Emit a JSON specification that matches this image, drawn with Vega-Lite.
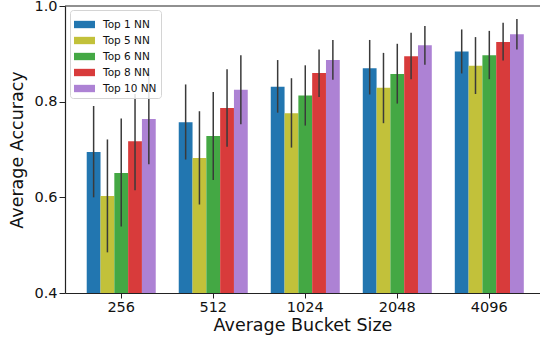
{
  "$schema": "https://vega.github.io/schema/vega-lite/v6.json",
  "width": 475,
  "height": 287,
  "autosize": {"type": "none"},
  "padding": {"left": 65, "top": 6, "right": 0, "bottom": 46},
  "config": {
    "font": "DejaVu Sans",
    "view": {"stroke": null},
    "axis": {
      "grid": false,
      "domainColor": "#222222",
      "domainWidth": 1.2,
      "tickColor": "#222222",
      "tickSize": 5,
      "labelColor": "#111111",
      "labelFontSize": 14.5,
      "titleColor": "#111111",
      "titleFontSize": 17.5,
      "titleFontWeight": "normal"
    }
  },
  "data": {
    "values": [
      {"bucket": "256", "series": "Top 1 NN", "mean": 0.695, "lo": 0.600, "hi": 0.791},
      {"bucket": "256", "series": "Top 5 NN", "mean": 0.603, "lo": 0.485, "hi": 0.721},
      {"bucket": "256", "series": "Top 6 NN", "mean": 0.651, "lo": 0.539, "hi": 0.765},
      {"bucket": "256", "series": "Top 8 NN", "mean": 0.717, "lo": 0.615, "hi": 0.816},
      {"bucket": "256", "series": "Top 10 NN", "mean": 0.764, "lo": 0.669, "hi": 0.858},
      {"bucket": "512", "series": "Top 1 NN", "mean": 0.757, "lo": 0.679, "hi": 0.836},
      {"bucket": "512", "series": "Top 5 NN", "mean": 0.682, "lo": 0.585, "hi": 0.780},
      {"bucket": "512", "series": "Top 6 NN", "mean": 0.728, "lo": 0.636, "hi": 0.820},
      {"bucket": "512", "series": "Top 8 NN", "mean": 0.787, "lo": 0.706, "hi": 0.868},
      {"bucket": "512", "series": "Top 10 NN", "mean": 0.825, "lo": 0.753, "hi": 0.897},
      {"bucket": "1024", "series": "Top 1 NN", "mean": 0.831, "lo": 0.777, "hi": 0.887},
      {"bucket": "1024", "series": "Top 5 NN", "mean": 0.776, "lo": 0.704, "hi": 0.849},
      {"bucket": "1024", "series": "Top 6 NN", "mean": 0.813, "lo": 0.750, "hi": 0.876},
      {"bucket": "1024", "series": "Top 8 NN", "mean": 0.860, "lo": 0.810, "hi": 0.909},
      {"bucket": "1024", "series": "Top 10 NN", "mean": 0.887, "lo": 0.846, "hi": 0.929},
      {"bucket": "2048", "series": "Top 1 NN", "mean": 0.870, "lo": 0.815, "hi": 0.929},
      {"bucket": "2048", "series": "Top 5 NN", "mean": 0.829, "lo": 0.755, "hi": 0.902},
      {"bucket": "2048", "series": "Top 6 NN", "mean": 0.858, "lo": 0.796, "hi": 0.921},
      {"bucket": "2048", "series": "Top 8 NN", "mean": 0.895, "lo": 0.847, "hi": 0.944},
      {"bucket": "2048", "series": "Top 10 NN", "mean": 0.918, "lo": 0.877, "hi": 0.958},
      {"bucket": "4096", "series": "Top 1 NN", "mean": 0.905, "lo": 0.859, "hi": 0.951},
      {"bucket": "4096", "series": "Top 5 NN", "mean": 0.875, "lo": 0.816, "hi": 0.935},
      {"bucket": "4096", "series": "Top 6 NN", "mean": 0.897, "lo": 0.847, "hi": 0.948},
      {"bucket": "4096", "series": "Top 8 NN", "mean": 0.925, "lo": 0.886, "hi": 0.965},
      {"bucket": "4096", "series": "Top 10 NN", "mean": 0.941, "lo": 0.909, "hi": 0.973}
    ]
  },
  "layer": [
    {
      "mark": {"type": "bar", "opacity": 1, "clip": true},
      "encoding": {
        "x": {
          "field": "bucket",
          "type": "ordinal",
          "sort": ["256", "512", "1024", "2048", "4096"],
          "scale": {"paddingInner": 0.25, "paddingOuter": 0.206, "align": 0.573},
          "axis": {"labelAngle": 0, "title": "Average Bucket Size", "labelPadding": 2, "titlePadding": 3}
        },
        "xOffset": {
          "field": "series",
          "type": "nominal",
          "sort": ["Top 1 NN", "Top 5 NN", "Top 6 NN", "Top 8 NN", "Top 10 NN"],
          "scale": {"paddingInner": 0, "paddingOuter": 0}
        },
        "y": {
          "field": "mean",
          "type": "quantitative",
          "scale": {"domain": [0.4, 1.0], "nice": false, "zero": false},
          "axis": {"values": [0.4, 0.6, 0.8, 1.0], "format": ".1f", "title": "Average Accuracy", "labelPadding": 2, "titlePadding": 7, "tickSize": 6}
        },
        "color": {
          "field": "series",
          "type": "nominal",
          "sort": ["Top 1 NN", "Top 5 NN", "Top 6 NN", "Top 8 NN", "Top 10 NN"],
          "scale": {
            "domain": ["Top 1 NN", "Top 5 NN", "Top 6 NN", "Top 8 NN", "Top 10 NN"],
            "range": ["#2276b0", "#c2c13a", "#44a844", "#d83b3b", "#ad82d4"]
          },
          "legend": {
            "title": null,
            "orient": "none",
            "legendX": 5,
            "legendY": 4,
            "fillColor": "rgba(255,255,255,0.85)",
            "strokeColor": "#d4d4d4",
            "cornerRadius": 3,
            "padding": 4,
            "labelFontSize": 10.5,
            "labelColor": "#111111",
            "labelOffset": 8,
            "symbolType": "M-1,-0.35L1,-0.35L1,0.35L-1,0.35Z",
            "symbolSize": 441,
            "symbolStrokeWidth": 0,
            "symbolOpacity": 1,
            "rowPadding": 0
          }
        }
      }
    },
    {
      "mark": {"type": "rule", "color": "#3a3a3a", "strokeWidth": 1.5},
      "encoding": {
        "x": {"field": "bucket", "type": "ordinal", "sort": ["256", "512", "1024", "2048", "4096"]},
        "xOffset": {"field": "series", "type": "nominal", "sort": ["Top 1 NN", "Top 5 NN", "Top 6 NN", "Top 8 NN", "Top 10 NN"]},
        "y": {"field": "lo", "type": "quantitative"},
        "y2": {"field": "hi"}
      }
    },
    {
      "data": {"values": [{"top": 1.0}]},
      "mark": {"type": "rule", "color": "#222222", "strokeWidth": 1.2},
      "encoding": {"y": {"field": "top", "type": "quantitative"}}
    }
  ]
}
